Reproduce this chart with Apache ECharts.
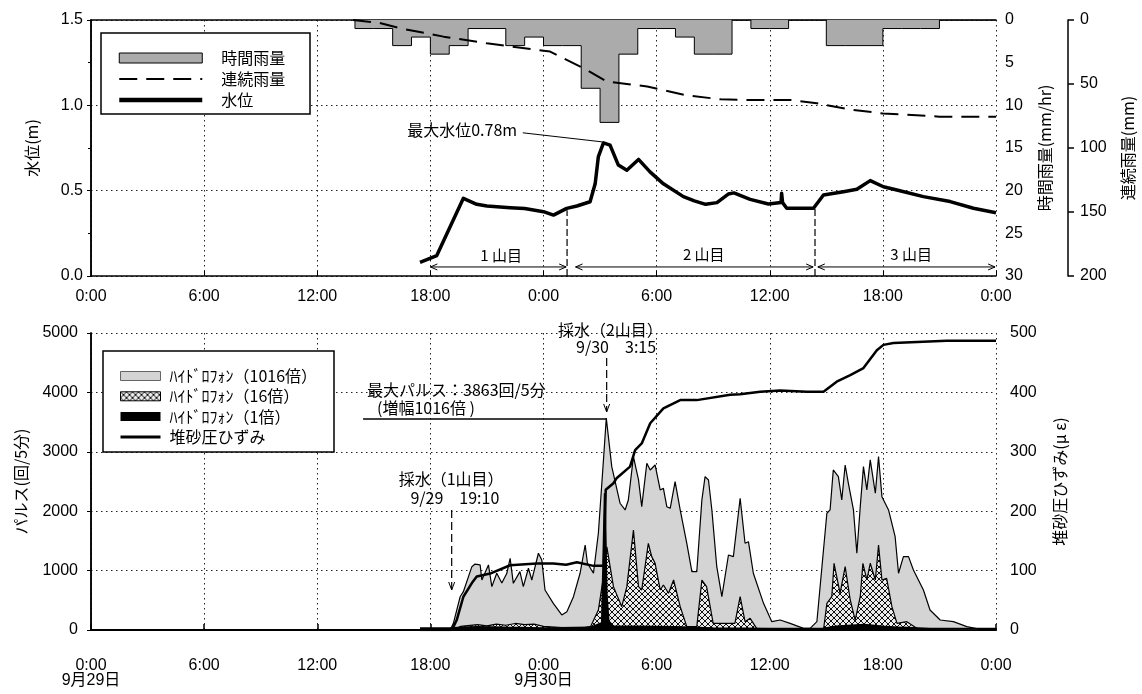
<!DOCTYPE html>
<html><head><meta charset="utf-8">
<script src="https://cdn.jsdelivr.net/npm/echarts@6/dist/echarts.min.js"></script>
<style>html,body{margin:0;padding:0;background:#fff}#c{width:1142px;height:694px}</style>
</head><body><div id="c"></div>
<script>
// ---------------- DATA ----------------
// time axis: hours since 9/29 0:00
const dateLabels = ['9月29日', '9月30日'];

// hourly rainfall (mm/hr), each value holds from the listed hour for one hour
const rainHour = [14,15,16,17,18,19,20,21,22,23,24,25,26,27,28,29,30,31,32,33,34,35,36,37,38,39,40,41,42,43,44,45,46,47,48];
const rainValue = [1,1,3,2,4,3,1,1,3,2,3,3,8,12,4,1,1,2,4,4,0,1,1,0,0,3,3,3,1,1,1,0,0,0,0];

// cumulative rainfall (mm)
const cumTime = [13.9,15.3,16.4,18.7,21.0,24.35,26.3,27.35,29.5,31.5,33.4,35.05,37.1,38.5,40.26,42.0,45.0,48];
const cumValue = [0,2.3,6.5,13,18.2,24.7,39,48,52,58.6,62,62.5,62.5,65,70,73,75.5,75.5];

// water level (m)
const wlTime = [17.45,18.34,19.75,20.46,21.0,22.23,23.0,24.0,24.53,25.23,25.77,26.47,26.74,26.91,27.18,27.53,27.97,28.42,29.04,29.65,30.36,31.42,32.0,32.6,33.2,33.8,34.1,34.96,35.93,36.6,36.63,36.68,36.9,38.32,38.85,39.91,40.62,41.33,42.03,42.74,44.15,45.57,46.8,48];
const wlValue = [0.08,0.12,0.455,0.42,0.41,0.40,0.395,0.377,0.357,0.396,0.41,0.435,0.54,0.70,0.78,0.767,0.65,0.62,0.683,0.61,0.54,0.465,0.44,0.42,0.43,0.48,0.487,0.449,0.422,0.43,0.485,0.43,0.397,0.397,0.475,0.494,0.508,0.559,0.523,0.504,0.465,0.436,0.397,0.371];

// hydrophone x1016 (pulses / 5 min)
const h1016Time = [17.45,19.05,19.22,19.58,19.75,20.2,20.37,20.64,20.73,21.08,21.26,21.52,21.79,22.05,22.23,22.4,22.75,22.93,23.2,23.38,23.73,23.91,24.08,24.52,24.97,25.24,25.59,25.94,26.21,26.33,26.65,26.91,27.18,27.33,27.62,27.8,28.06,28.33,28.5,28.77,29.04,29.21,29.48,29.66,29.92,30.19,30.36,30.54,30.72,30.98,31.25,31.6,31.87,32.13,32.4,32.57,32.75,32.93,33.19,33.46,33.81,34.07,34.43,34.69,34.87,35.13,35.67,36.11,36.55,37.08,37.79,38.14,38.5,38.85,39.03,39.2,39.37,39.64,39.82,40.0,40.17,40.44,40.62,40.8,40.97,41.15,41.33,41.6,41.77,41.95,42.3,42.65,42.83,43.09,43.36,43.62,44.15,44.5,45.04,45.74,46.45,47.16,47.87,48];
const h1016Value = [0,0,112,560,645,1066,1110,1095,842,1095,730,955,790,950,1207,786,982,730,1039,842,1292,1179,674,449,253,309,561,955,1431,1123,955,1628,2863,3570,2750,2498,2134,2021,2189,2918,2526,2076,2807,2694,2778,2358,2386,2076,2049,2498,2021,1460,982,982,2189,2582,2526,2021,1066,561,1263,1235,2218,1460,1487,955,449,140,168,112,28,28,140,1347,1965,2021,2694,2582,2189,2778,2470,2021,1292,2076,2750,2358,2863,2302,2918,2245,2021,1571,955,1235,1235,1010,674,337,168,140,56,12,0,0];

// hydrophone x16
const h16Time = [17.45,19.2,19.6,20.5,21.0,21.5,22.0,22.5,23.0,23.5,24.0,25.0,26.0,26.5,26.91,27.18,27.36,27.71,28.15,28.42,28.77,29.04,29.21,29.56,29.74,29.92,30.19,30.36,30.63,30.9,31.25,31.6,32.13,32.4,32.65,33.0,34.15,34.43,34.69,34.96,35.32,36.0,38.85,39.03,39.29,39.41,39.73,40.0,40.27,40.53,40.8,40.94,41.15,41.33,41.6,41.77,41.95,42.2,42.48,42.75,43.27,43.8,44.24,48];
const h16Value = [0,0,60,90,70,100,80,110,90,100,60,40,30,60,337,900,1400,730,393,730,1684,730,674,1460,1235,1123,674,758,618,842,393,56,56,842,730,112,112,561,140,196,20,10,0,449,561,1123,618,1066,505,168,561,1123,842,1123,842,1431,842,870,393,112,140,30,0,0];

// hydrophone x1
const h1Time = [17.45,19.0,19.5,20.5,22,24,26.5,27.1,27.25,27.35,27.45,27.7,29,31,33,36,38.8,39.5,41,42,43,44.5,48];
const h1Value = [30,30,40,50,40,30,40,120,2300,600,150,60,60,50,30,20,20,60,90,60,40,20,20];

// sediment pressure strain (μ ε)
const strainTime = [17.45,19.05,19.22,19.4,19.75,20.2,20.46,21.17,22.23,23.64,24.52,25.2,25.77,26.65,27.2,27.3,27.71,27.89,28.59,28.86,29.21,29.66,30.36,31.25,32.13,33.9,34.43,35.49,36.55,37.97,38.85,39.55,40.27,40.97,41.68,42.03,42.56,45.39,48];
const strainValue = [0,0,5,17,56,79,90,95,109,112,112,110,114,108,108,236,247,256,275,303,314,348,373,387,387,396,397,401,403,401,401,418,429,441,471,480,483,487,487];

// ---------------- CHART ----------------
const zip = (a, b) => a.map((x, i) => [x, b[i]]);
const FONT = "'Liberation Sans','Noto Sans CJK JP',sans-serif";
const JFONT = "'Noto Sans CJK JP',sans-serif";

function makeHatch() {
  const c = document.createElement('canvas'); c.width = 6; c.height = 6;
  const g = c.getContext('2d');
  g.fillStyle = '#ececec'; g.fillRect(0, 0, 6, 6);
  g.strokeStyle = '#111'; g.lineWidth = 1;
  g.beginPath(); g.moveTo(0, 0); g.lineTo(6, 6); g.moveTo(6, 0); g.lineTo(0, 6); g.stroke();
  return c;
}
const hatch = { image: makeHatch(), repeat: 'repeat' };

const RAIN_FILL = '#ababab';
const P1016_FILL = '#d4d4d4';
const dotted = { show: true, lineStyle: { color: '#222', width: 1, type: [1.5, 3.5] } };
const lbl = (extra) => Object.assign({ color: '#000', fontFamily: FONT, fontSize: 16 }, extra || {});
const nameStyle = { color: '#000', fontFamily: JFONT, fontSize: 16 };
const axLine = { show: true, lineStyle: { color: '#000', width: 1.5 } };
const noSymbol = { color: 'rgba(0,0,0,0)', borderColor: 'rgba(0,0,0,0)', borderWidth: 0, opacity: 0 };

const timeFmtTop = v => (v % 24) + ':00';
const timeFmtBottom = v => {
  let s = (v % 24) + ':00';
  if (v % 24 === 0 && v < 48) s += '\n' + dateLabels[v / 24];
  return s;
};

const rainStep = [[rainHour[0], 0]].concat(zip(rainHour, rainValue));

const option = {
  animation: false,
  backgroundColor: '#fff',
  grid: [
    { left: 91, top: 20, width: 905, height: 256, outerBoundsMode: 'none' },
    { left: 91, top: 333, width: 905, height: 297, outerBoundsMode: 'none' }
  ],
  xAxis: [
    { type: 'value', gridIndex: 0, min: 0, max: 48, interval: 6, position: 'bottom',
      axisLine: axLine, axisTick: { show: true, inside: true, length: 5, lineStyle: { color: '#000' } },
      axisLabel: lbl({ formatter: timeFmtTop, margin: 13 }), splitLine: dotted },
    { type: 'value', gridIndex: 1, min: 0, max: 48, interval: 6, position: 'bottom', offset: 12,
      axisLine: { show: true, lineStyle: { color: '#000', width: 2 } }, axisTick: { show: true, inside: true, length: 6, lineStyle: { color: '#000', width: 1.5 } },
      axisLabel: lbl({ formatter: timeFmtBottom, margin: 16, lineHeight: 15 }), splitLine: dotted },
    { type: 'value', gridIndex: 0, min: 0, max: 48, position: 'top', axisLine: axLine,
      axisTick: { show: false }, axisLabel: { show: false }, splitLine: { show: false } },
    { type: 'value', gridIndex: 1, min: 0, max: 48, position: 'top', axisLine: axLine,
      axisTick: { show: false }, axisLabel: { show: false }, splitLine: { show: false } }
  ],
  yAxis: [
    { type: 'value', gridIndex: 0, min: 0, max: 1.5, interval: 0.5, position: 'left',
      name: '水位(m)', nameLocation: 'middle', nameRotate: 90, nameGap: 51, nameTextStyle: nameStyle,
      axisLine: axLine, axisTick: { show: true, length: 4, lineStyle: { color: '#000' } },
      axisLabel: lbl({ formatter: v => v.toFixed(1), margin: 8 }), splitLine: dotted },
    { type: 'value', gridIndex: 0, min: 0, max: 30, interval: 5, inverse: true, position: 'right',
      name: '時間雨量(mm/hr)', nameLocation: 'middle', nameRotate: 90, nameGap: 41, nameTextStyle: nameStyle,
      axisLine: axLine, axisTick: { show: true, inside: true, length: 3, lineStyle: { color: '#000' } },
      axisLabel: lbl({ margin: 9, formatter: v => String(v) }), splitLine: { show: false } },
    { type: 'value', gridIndex: 0, min: 0, max: 200, interval: 50, inverse: true, position: 'right', offset: 72,
      name: '連続雨量(mm)', nameLocation: 'middle', nameRotate: 90, nameGap: 52, nameTextStyle: nameStyle,
      axisLine: axLine, axisTick: { show: true, length: 6, lineStyle: { color: '#000', width: 1.5 } },
      axisLabel: lbl({ margin: 12, formatter: v => String(v) }), splitLine: { show: false } },
    { type: 'value', gridIndex: 1, min: 0, max: 5000, interval: 1000, position: 'left',
      name: 'パルス(回/5分)', nameLocation: 'middle', nameRotate: 90, nameGap: 62, nameTextStyle: nameStyle,
      axisLine: axLine, axisTick: { show: true, length: 4, lineStyle: { color: '#000' } },
      axisLabel: lbl({ margin: 13, formatter: v => String(v) }), splitLine: dotted },
    { type: 'value', gridIndex: 1, min: 0, max: 500, interval: 100, position: 'right',
      name: '堆砂圧ひずみ(μ ε)', nameLocation: 'middle', nameRotate: 90, nameGap: 56, nameTextStyle: nameStyle,
      axisLine: axLine, axisTick: { show: true, inside: true, length: 3, lineStyle: { color: '#000' } },
      axisLabel: lbl({ margin: 14, formatter: v => String(v) }), splitLine: { show: false } }
  ],
  legend: [
    { left: 112, top: 45, orient: 'vertical', itemWidth: 83, itemHeight: 10, itemGap: 5, selectedMode: false, z: 10,
      textStyle: { fontSize: 16, lineHeight: 16, color: '#000', fontFamily: JFONT, padding: [0, 0, 0, 14] },
      data: [
        { name: '時間雨量', icon: 'rect', itemStyle: { color: RAIN_FILL, borderColor: '#000', borderWidth: 1 } },
        { name: '連続雨量', itemStyle: noSymbol, lineStyle: { width: 2, type: [18, 9], color: '#000' } },
        { name: '水位', itemStyle: noSymbol, lineStyle: { width: 4.5, color: '#000' } }
      ] },
    { left: 114, top: 363, orient: 'vertical', itemWidth: 40, itemHeight: 9, itemGap: 4.3, selectedMode: false, z: 10,
      textStyle: { fontSize: 16, lineHeight: 16, color: '#000', fontFamily: JFONT, padding: [0, 0, 0, 4] },
      data: [
        { name: 'ﾊｲﾄﾞﾛﾌｫﾝ（1016倍）', icon: 'rect', itemStyle: { color: P1016_FILL, borderColor: '#666', borderWidth: 1 } },
        { name: 'ﾊｲﾄﾞﾛﾌｫﾝ（16倍）', icon: 'rect', itemStyle: { color: hatch, borderColor: '#000', borderWidth: 1 } },
        { name: 'ﾊｲﾄﾞﾛﾌｫﾝ（1倍）', icon: 'rect', itemStyle: { color: '#000' } },
        { name: '堆砂圧ひずみ', itemStyle: noSymbol, lineStyle: { width: 3, color: '#000' } }
      ] }
  ],
  series: [
    { name: '時間雨量', type: 'line', xAxisIndex: 0, yAxisIndex: 1, step: 'end', symbol: 'none', data: rainStep,
      itemStyle: { color: RAIN_FILL }, lineStyle: { color: '#000', width: 1 }, areaStyle: { color: RAIN_FILL, opacity: 1 } },
    { name: '連続雨量', type: 'line', xAxisIndex: 0, yAxisIndex: 2, symbol: 'none', data: zip(cumTime, cumValue),
      itemStyle: { color: '#000' }, lineStyle: { color: '#000', width: 2, type: [18, 9] } },
    { name: '水位', type: 'line', xAxisIndex: 0, yAxisIndex: 0, symbol: 'none', data: zip(wlTime, wlValue),
      itemStyle: { color: '#000' }, lineStyle: { color: '#000', width: 3.5, join: 'round' } },
    { name: 'ﾊｲﾄﾞﾛﾌｫﾝ（1016倍）', type: 'line', xAxisIndex: 1, yAxisIndex: 3, symbol: 'none', data: zip(h1016Time, h1016Value),
      itemStyle: { color: P1016_FILL }, lineStyle: { color: '#000', width: 1.2 }, areaStyle: { color: P1016_FILL, opacity: 1 } },
    { name: 'ﾊｲﾄﾞﾛﾌｫﾝ（16倍）', type: 'line', xAxisIndex: 1, yAxisIndex: 3, symbol: 'none', data: zip(h16Time, h16Value),
      itemStyle: { color: '#888' }, lineStyle: { color: '#000', width: 1.2 }, areaStyle: { color: hatch, opacity: 1 } },
    { name: 'ﾊｲﾄﾞﾛﾌｫﾝ（1倍）', type: 'line', xAxisIndex: 1, yAxisIndex: 3, symbol: 'none', data: zip(h1Time, h1Value),
      itemStyle: { color: '#000' }, lineStyle: { color: '#000', width: 2 }, areaStyle: { color: '#000', opacity: 1 } },
    { name: '堆砂圧ひずみ', type: 'line', xAxisIndex: 1, yAxisIndex: 4, symbol: 'none', data: zip(strainTime, strainValue),
      itemStyle: { color: '#000' }, lineStyle: { color: '#000', width: 2.5, join: 'round' } }
  ]
};

const chart = echarts.init(document.getElementById('c'), null, { renderer: 'canvas' });
chart.setOption(option);

// ---------------- ANNOTATIONS (data coordinates) ----------------
const P0 = (h, v) => chart.convertToPixel({ xAxisIndex: 0, yAxisIndex: 0 }, [h, v]);
const P1 = (h, v) => chart.convertToPixel({ xAxisIndex: 1, yAxisIndex: 3 }, [h, v]);
const G = [];
const seg = (a, b, st) => G.push({ type: 'line', z: 20, silent: true, shape: { x1: a[0], y1: a[1], x2: b[0], y2: b[1] },
  style: Object.assign({ stroke: '#000', lineWidth: 1 }, st || {}) });
const poly = (pts) => G.push({ type: 'polyline', z: 20, silent: true, shape: { points: pts }, style: { stroke: '#000', lineWidth: 1, fill: null } });
const txt = (p, s, align, size) => G.push({ type: 'text', z: 21, silent: true, x: p[0], y: p[1],
  style: { text: s, fill: '#000', fontSize: size || 16, fontFamily: JFONT, align: align || 'center', verticalAlign: 'middle' } });
const dbl = (h1, h2, m) => {
  const a = P0(h1, m), b = P0(h2, m);
  seg(a, b);
  poly([[a[0] + 7, a[1] - 3], a, [a[0] + 7, a[1] + 3]]);
  poly([[b[0] - 7, b[1] - 3], b, [b[0] - 7, b[1] + 3]]);
};
const downArrow = (top, bot) => {
  seg(top, bot, { lineDash: [8, 4], lineWidth: 1.2 });
  poly([[bot[0] - 3, bot[1] - 8], bot, [bot[0] + 3, bot[1] - 8]]);
};

// legend frames
G.push({ type: 'rect', z: 3, silent: true, shape: { x: 101, y: 33, width: 209, height: 81 }, style: { fill: '#fff', stroke: '#000', lineWidth: 1.5 } });
G.push({ type: 'rect', z: 3, silent: true, shape: { x: 103, y: 351, width: 231, height: 101 }, style: { fill: '#fff', stroke: '#000', lineWidth: 1.5 } });

// top panel
txt(P0(22.6, 0.855), '最大水位0.78m', 'right', 16);
seg(P0(22.9, 0.839), P0(27.1, 0.786));
seg(P0(25.25, 0), P0(25.25, 0.385), { lineDash: [7, 3], lineWidth: 1.2 });
seg(P0(38.4, 0), P0(38.4, 0.40), { lineDash: [7, 3], lineWidth: 1.2 });
dbl(18, 25.2, 0.053);
dbl(25.7, 38.3, 0.053);
dbl(38.55, 47.95, 0.053);
txt(P0(21.75, 0.122), '1 山目', 'center', 15);
txt(P0(32.5, 0.128), '2 山目', 'center', 15);
txt(P0(43.5, 0.125), '3 山目', 'center', 15);

// bottom panel
txt(P1(27.55, 5050), '採水（2山目）', 'center', 16);
txt(P1(27.85, 4766), '9/30　3:15', 'center', 16);
downArrow(P1(27.35, 4580), P1(27.35, 3671));
txt(P1(14.64, 4042), '最大パルス：3863回/5分', 'left', 16);
txt(P1(15.17, 3738), '(増幅1016倍 )', 'left', 16);
seg(P1(14.43, 3553), P1(27.37, 3553), { lineWidth: 1.5 });
txt(P1(19.1, 2543), '採水（1山目）', 'center', 16);
txt(P1(19.3, 2223), '9/29　19:10', 'center', 16);
downArrow(P1(19.13, 2021), P1(19.13, 674));

chart.setOption({ graphic: G });
</script>
</body></html>
